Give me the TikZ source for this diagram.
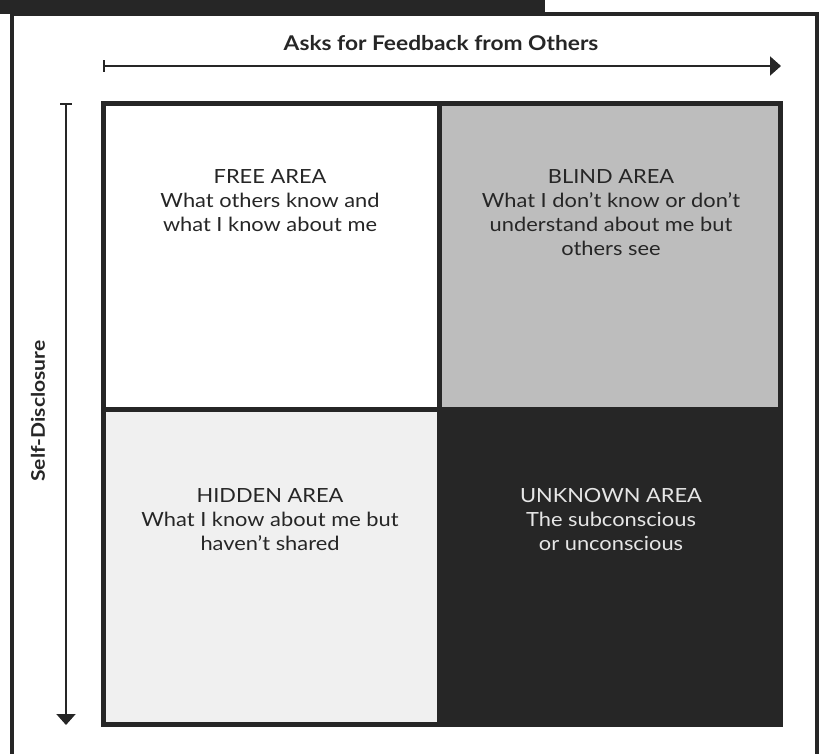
\documentclass[tikz,border=0pt]{standalone}
\usepackage{fontspec}
\setmainfont{Lato}[FakeStretch=1.12]
\usetikzlibrary{arrows.meta}
\definecolor{ink}{HTML}{262626}
\definecolor{blindgray}{HTML}{BDBDBD}
\definecolor{hiddengray}{HTML}{F0F0F0}
\definecolor{palefont}{HTML}{E6E6E6}
\tikzset{
  frameline/.style={draw=ink, line width=4pt},
  axis/.style={draw=ink, line width=2pt, {Bar[width=12pt,line width=2pt]}-{Triangle[length=11pt,width=19pt]}},
  axislabel/.style={font=\bfseries\fontsize{20.3}{23}\selectfont, text=ink},
  sidelabel/.style={font=\bfseries\fontsize{18.8}{22}\selectfont, text=ink},
  areatext/.style={align=center, font=\fontsize{19.5}{24}\selectfont, text=ink},
}
\begin{document}
\begin{tikzpicture}[x=1pt,y=-1pt]
\useasboundingbox (0,0) rectangle (819,754);
% outer page frame with its dark tab
\fill[ink] (0,0) rectangle (545,14);
\draw[frameline] (11.5,754) -- (11.5,14) -- (816.5,14) -- (816.5,754);
% the four quadrants
\fill[white]      (103.5,103.5) rectangle (439.5,409.5);
\fill[blindgray]  (439.5,103.5) rectangle (780.5,409.5);
\fill[hiddengray] (103.5,409.5) rectangle (439.5,724.5);
\fill[ink]        (439.5,409.5) rectangle (780.5,724.5);
\draw[ink, line width=5pt] (103.5,103.5) rectangle (780.5,724.5);
\draw[ink, line width=5pt] (439.5,103.5) -- (439.5,724.5);
\draw[ink, line width=5pt] (103.5,409.5) -- (780.5,409.5);
% axes
\coordinate (hstart) at (103,66);
\coordinate (hend) at (781,66);
\coordinate (vstart) at (66,103);
\coordinate (vend) at (66,725);
\draw[axis] (hstart) -- (hend);
\draw[axis] (vstart) -- (vend);
\node[axislabel] (feedback) at (441,43) {Asks for Feedback from Others};
\node[sidelabel, rotate=90] (disclosure) at (38,411) {Self-Disclosure};
% quadrant labels
\node[areatext] (free) at (270,201) {FREE AREA\\What others know and\\what I know about me};
\node[areatext] (blind) at (611,213) {BLIND AREA\\What I don’t know or don’t\\understand about me but\\others see};
\node[areatext] (hidden) at (270,520) {HIDDEN AREA\\What I know about me but\\haven’t shared};
\node[areatext, text=palefont] (unknown) at (611,520) {UNKNOWN AREA\\The subconscious\\or unconscious};
\end{tikzpicture}
\end{document}
